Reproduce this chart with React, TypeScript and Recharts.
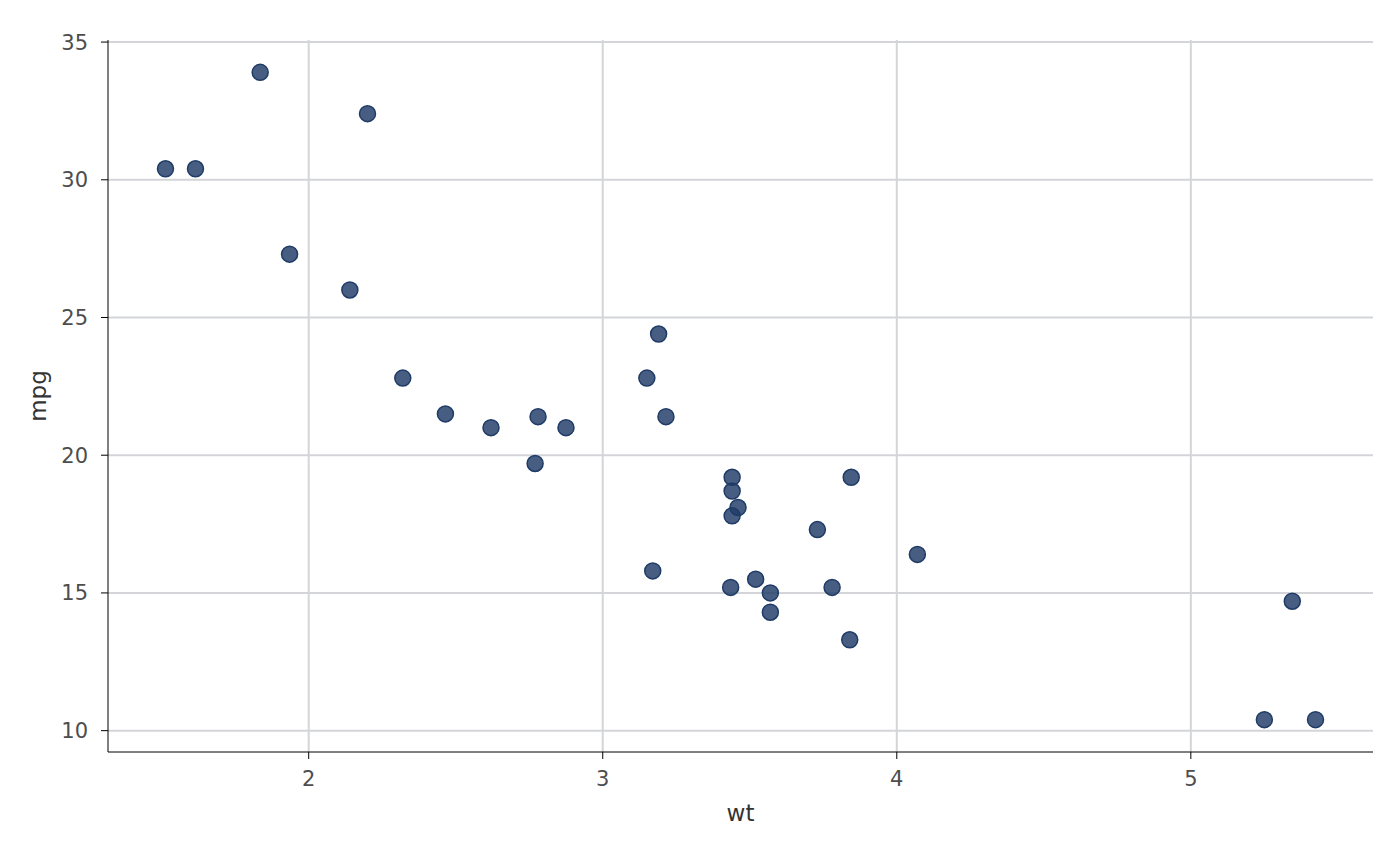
import { ScatterChart, Scatter, XAxis, YAxis, CartesianGrid, Label } from 'recharts'

// mtcars: weight (1000 lbs) vs miles per gallon
const wt = [
  2.62, 2.875, 2.32, 3.215, 3.44, 3.46, 3.57, 3.19, 3.15, 3.44, 3.44, 4.07, 3.73, 3.78, 5.25, 5.424,
  5.345, 2.2, 1.615, 1.835, 2.465, 3.52, 3.435, 3.84, 3.845, 1.935, 2.14, 1.513, 3.17, 2.77, 3.57, 2.78,
]
const mpg = [
  21.0, 21.0, 22.8, 21.4, 18.7, 18.1, 14.3, 24.4, 22.8, 19.2, 17.8, 16.4, 17.3, 15.2, 10.4, 10.4,
  14.7, 32.4, 30.4, 33.9, 21.5, 15.5, 15.2, 13.3, 19.2, 27.3, 26.0, 30.4, 15.8, 19.7, 15.0, 21.4,
]
const xTicks = [2, 3, 4, 5]
const yTicks = [10, 15, 20, 25, 30, 35]

const data = wt.map((w, i) => ({ wt: w, mpg: mpg[i] }))

const font = '"DejaVu Sans", Verdana, sans-serif'
const pointColor = '#1f3b66'

const Dot = (props: any) => (
  <circle
    cx={props.cx}
    cy={props.cy}
    r={8}
    fill={pointColor}
    fillOpacity={0.82}
    stroke={pointColor}
    strokeWidth={1.5}
  />
)

export default function App() {
  return (
    <div style={{ position: 'absolute', left: 0, top: 0, background: '#fff' }}>
      <ScatterChart width={1400} height={866} margin={{ top: 40, right: 27, bottom: 0, left: 0 }}>
        <CartesianGrid
          stroke="#d4d5d9"
          strokeWidth={2}
          horizontalValues={yTicks}
          verticalValues={xTicks}
        />
        <XAxis
          type="number"
          dataKey="wt"
          domain={[1.3175, 5.6195]}
          ticks={xTicks}
          allowDataOverflow
          height={114}
          axisLine={{ stroke: '#000', strokeWidth: 1 }}
          tickLine={{ stroke: '#000', strokeWidth: 1 }}
          tickSize={7}
          tickMargin={12}
          tick={{ fill: '#4d4d4d', fontSize: 21, fontFamily: font }}
        >
          <Label
            content={({ viewBox }: any) => (
              <text
                x={viewBox.x + viewBox.width / 2}
                y={821}
                textAnchor="middle"
                fill="#333"
                fontSize={23}
                fontFamily={font}
              >
                wt
              </text>
            )}
          />
        </XAxis>
        <YAxis
          type="number"
          dataKey="mpg"
          domain={[9.225, 35.075]}
          ticks={yTicks}
          allowDataOverflow
          width={108}
          axisLine={{ stroke: '#000', strokeWidth: 1 }}
          tickLine={{ stroke: '#000', strokeWidth: 1 }}
          tickSize={7}
          tickMargin={13}
          tick={{ fill: '#4d4d4d', fontSize: 21, fontFamily: font }}
        >
          <Label
            content={({ viewBox }: any) => {
              const cy = viewBox.y + viewBox.height / 2
              return (
                <text
                  x={46}
                  y={cy}
                  transform={`rotate(-90, 46, ${cy})`}
                  textAnchor="middle"
                  fill="#333"
                  fontSize={23}
                  fontFamily={font}
                >
                  mpg
                </text>
              )
            }}
          />
        </YAxis>
        <Scatter data={data} shape={Dot} isAnimationActive={false} />
      </ScatterChart>
    </div>
  )
}
